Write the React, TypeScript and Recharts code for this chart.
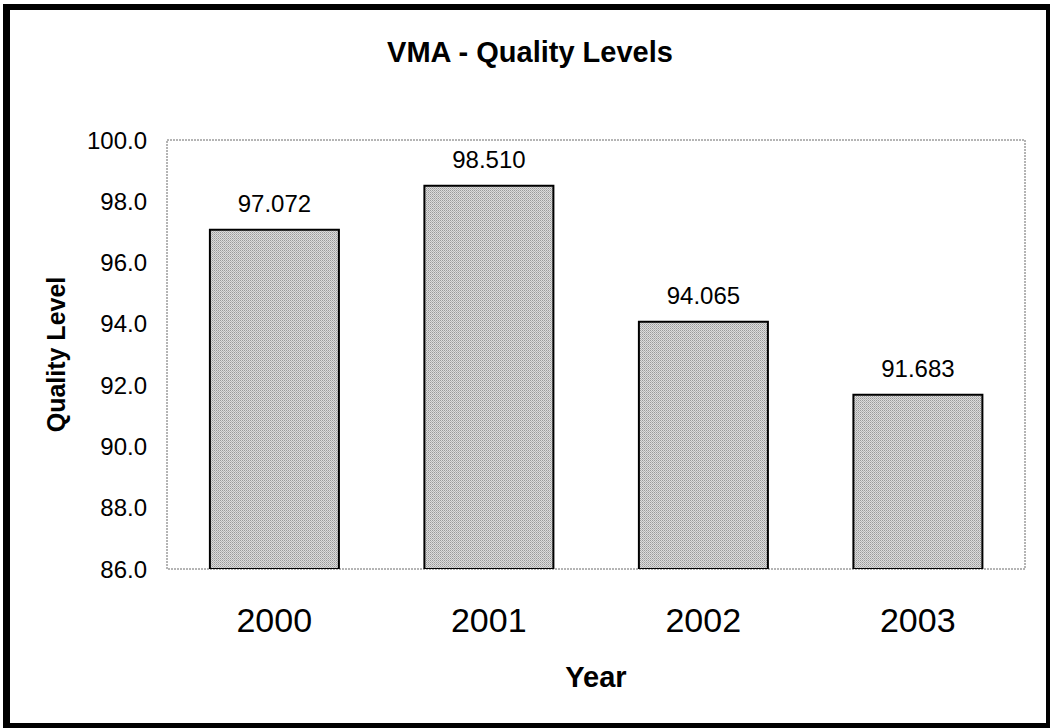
import React from "react";
import {
  BarChart,
  Bar,
  XAxis,
  YAxis,
  LabelList,
  ReferenceArea,
} from "recharts";

// VMA quality levels per year
const YEARS = ["2000", "2001", "2002", "2003"];
const QUALITY = [97.072, 98.51, 94.065, 91.683];
const Y_TICKS = [86, 88, 90, 92, 94, 96, 98, 100];

const FONT = "'Liberation Sans', Arial, Helvetica, sans-serif";

const data = YEARS.map((year, i) => ({ year, quality: QUALITY[i] }));

export default function App() {
  return (
    <div
      style={{
        position: "fixed",
        left: 0,
        top: 0,
        width: 1050,
        height: 728,
        background: "#fff",
        fontFamily: FONT,
      }}
    >
      {/* heavy outer frame */}
      <div
        style={{
          position: "absolute",
          left: 3,
          top: 4,
          width: 1047,
          height: 724,
          boxSizing: "border-box",
          borderStyle: "solid",
          borderColor: "#000",
          borderWidth: "6px 4px 5px 7px",
        }}
      />
      <div style={{ position: "absolute", left: 0, top: 0 }}>
        <BarChart
          width={1050}
          height={728}
          data={data}
          margin={{ top: 140, right: 25, bottom: 0, left: 0 }}
          barCategoryGap="20%"
        >
          <defs>
            <pattern
              id="dots"
              width={2}
              height={2}
              patternUnits="userSpaceOnUse"
            >
              <rect width={2} height={2} fill="#dcdcdc" />
              <rect width={1} height={1} fill="#9a9a9a" />
              <rect x={1} y={1} width={1} height={1} fill="#b4b4b4" />
            </pattern>
          </defs>
          <text
            x={530}
            y={62}
            textAnchor="middle"
            fontFamily={FONT}
            fontWeight="bold"
            fontSize={29}
            fill="#000"
          >
            VMA - Quality Levels
          </text>
          <ReferenceArea
            y1={86}
            y2={100}
            fill="none"
            stroke="#6a6a6a"
            strokeDasharray="2 1"
            strokeWidth={1}
            ifOverflow="visible"
          />
          <XAxis
            dataKey="year"
            height={159}
            axisLine={false}
            tickLine={false}
            tickSize={0}
            tickMargin={39}
            tick={{ fontSize: 34, fill: "#000", fontFamily: FONT }}
            label={{
              value: "Year",
              position: "insideBottom",
              offset: 41,
              fontSize: 29,
              fontWeight: "bold",
              fill: "#000",
              fontFamily: FONT,
            }}
          />
          <YAxis
            width={167}
            domain={[86, 100]}
            ticks={Y_TICKS}
            allowDataOverflow
            axisLine={false}
            tickLine={false}
            tickSize={0}
            tickMargin={20}
            tickFormatter={(v: number) => v.toFixed(1)}
            tick={{ fontSize: 24, fill: "#000", fontFamily: FONT }}
            label={{
              value: "Quality Level",
              angle: -90,
              position: "insideLeft",
              offset: 56,
              fontSize: 25,
              fontWeight: "bold",
              fill: "#000",
              fontFamily: FONT,
              style: { textAnchor: "middle" },
            }}
          />
          <Bar
            dataKey="quality"
            fill="url(#dots)"
            stroke="#000"
            strokeWidth={2}
            isAnimationActive={false}
          >
            <LabelList
              dataKey="quality"
              position="top"
              offset={18}
              formatter={(v: number) => v.toFixed(3)}
              style={{ fontSize: 24, fill: "#000", fontFamily: FONT }}
            />
          </Bar>
        </BarChart>
      </div>
    </div>
  );
}
